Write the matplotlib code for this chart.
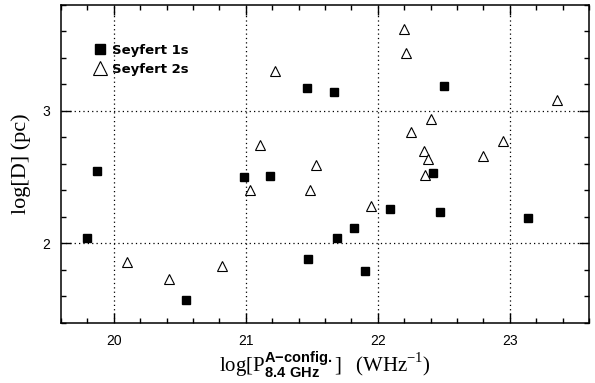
import matplotlib
matplotlib.use("Agg")
from matplotlib import pyplot as plt
from matplotlib.ticker import MultipleLocator

# Seyfert 1s (filled squares)
sy1_logp = [19.80, 19.87, 20.55, 20.99, 21.18, 21.46, 21.67, 22.50, 22.42,
            21.47, 21.69, 21.82, 21.90, 22.09, 22.47, 23.14]
sy1_logd = [2.04, 2.545, 1.576, 2.50, 2.51, 3.17, 3.14, 3.19, 2.53,
            1.88, 2.04, 2.12, 1.79, 2.26, 2.24, 2.19]

# Seyfert 2s (open triangles)
sy2_logp = [21.22, 21.11, 21.03, 22.20, 22.21, 23.36, 22.40, 22.25, 22.95,
            22.35, 22.38, 22.80, 22.36, 21.53, 21.49, 21.95, 20.10, 20.42, 20.82]
sy2_logd = [3.30, 2.745, 2.40, 3.62, 3.44, 3.08, 2.94, 2.84, 2.77,
            2.70, 2.64, 2.66, 2.515, 2.59, 2.40, 2.28, 1.86, 1.735, 1.83]

x_ticks = [20, 21, 22, 23]
y_ticks = [2, 3]

plt.rcParams["mathtext.fontset"] = "custom"
plt.rcParams["mathtext.rm"] = "Liberation Serif"
plt.rcParams["mathtext.sf"] = "Liberation Sans:bold"

fig = plt.figure(figsize=(5.95, 3.83), dpi=100)
ax = fig.add_axes([0.1025, 0.1567, 0.8874, 0.8303])

ax.plot(sy1_logp, sy1_logd, ls="none", marker="s", ms=6.2, mfc="black",
        mec="black", label="Seyfert 1s")
ax.plot(sy2_logp, sy2_logd, ls="none", marker="^", ms=7.5, mfc="white",
        mec="black", mew=0.8, label="Seyfert 2s")

ax.set_xlim(19.6, 23.6)
ax.set_ylim(1.4, 3.8)
ax.set_xticks(x_ticks)
ax.set_yticks(y_ticks)
ax.xaxis.set_minor_locator(MultipleLocator(0.2))
ax.yaxis.set_minor_locator(MultipleLocator(0.2))
ax.tick_params(which="both", direction="in", top=True, right=True,
               width=1.0, labelsize=10)
ax.tick_params(which="major", length=7, pad=8)
ax.tick_params(which="minor", length=3.5)
for lbl in ax.get_xticklabels() + ax.get_yticklabels():
    lbl.set_family("Liberation Sans")
for s in ax.spines.values():
    s.set_linewidth(1.1)

# dotted grid at major ticks
ax.grid(True, which="major", ls=(0, (1, 2.5)), color="black", lw=0.9)

ax.set_xlabel(r"$\log[\mathrm{P}^{\mathsf{A{-}config.}}_{\mathsf{8.4\ GHz}}]\ \ (\mathrm{WHz}^{-1})$",
              fontsize=15, labelpad=1)
ax.set_ylabel("log[D] (pc)", family="Liberation Serif", fontsize=16, labelpad=8)

leg = ax.legend(loc="upper left", bbox_to_anchor=(0.062, 0.878), frameon=False,
                borderaxespad=0, borderpad=0, markerscale=1.25,
                handlelength=1.0, handletextpad=0.35, labelspacing=0.45,
                prop={"family": "DejaVu Sans", "weight": "bold", "size": 9.5})

fig.savefig("out.png", dpi=100)
plt.close(fig)
